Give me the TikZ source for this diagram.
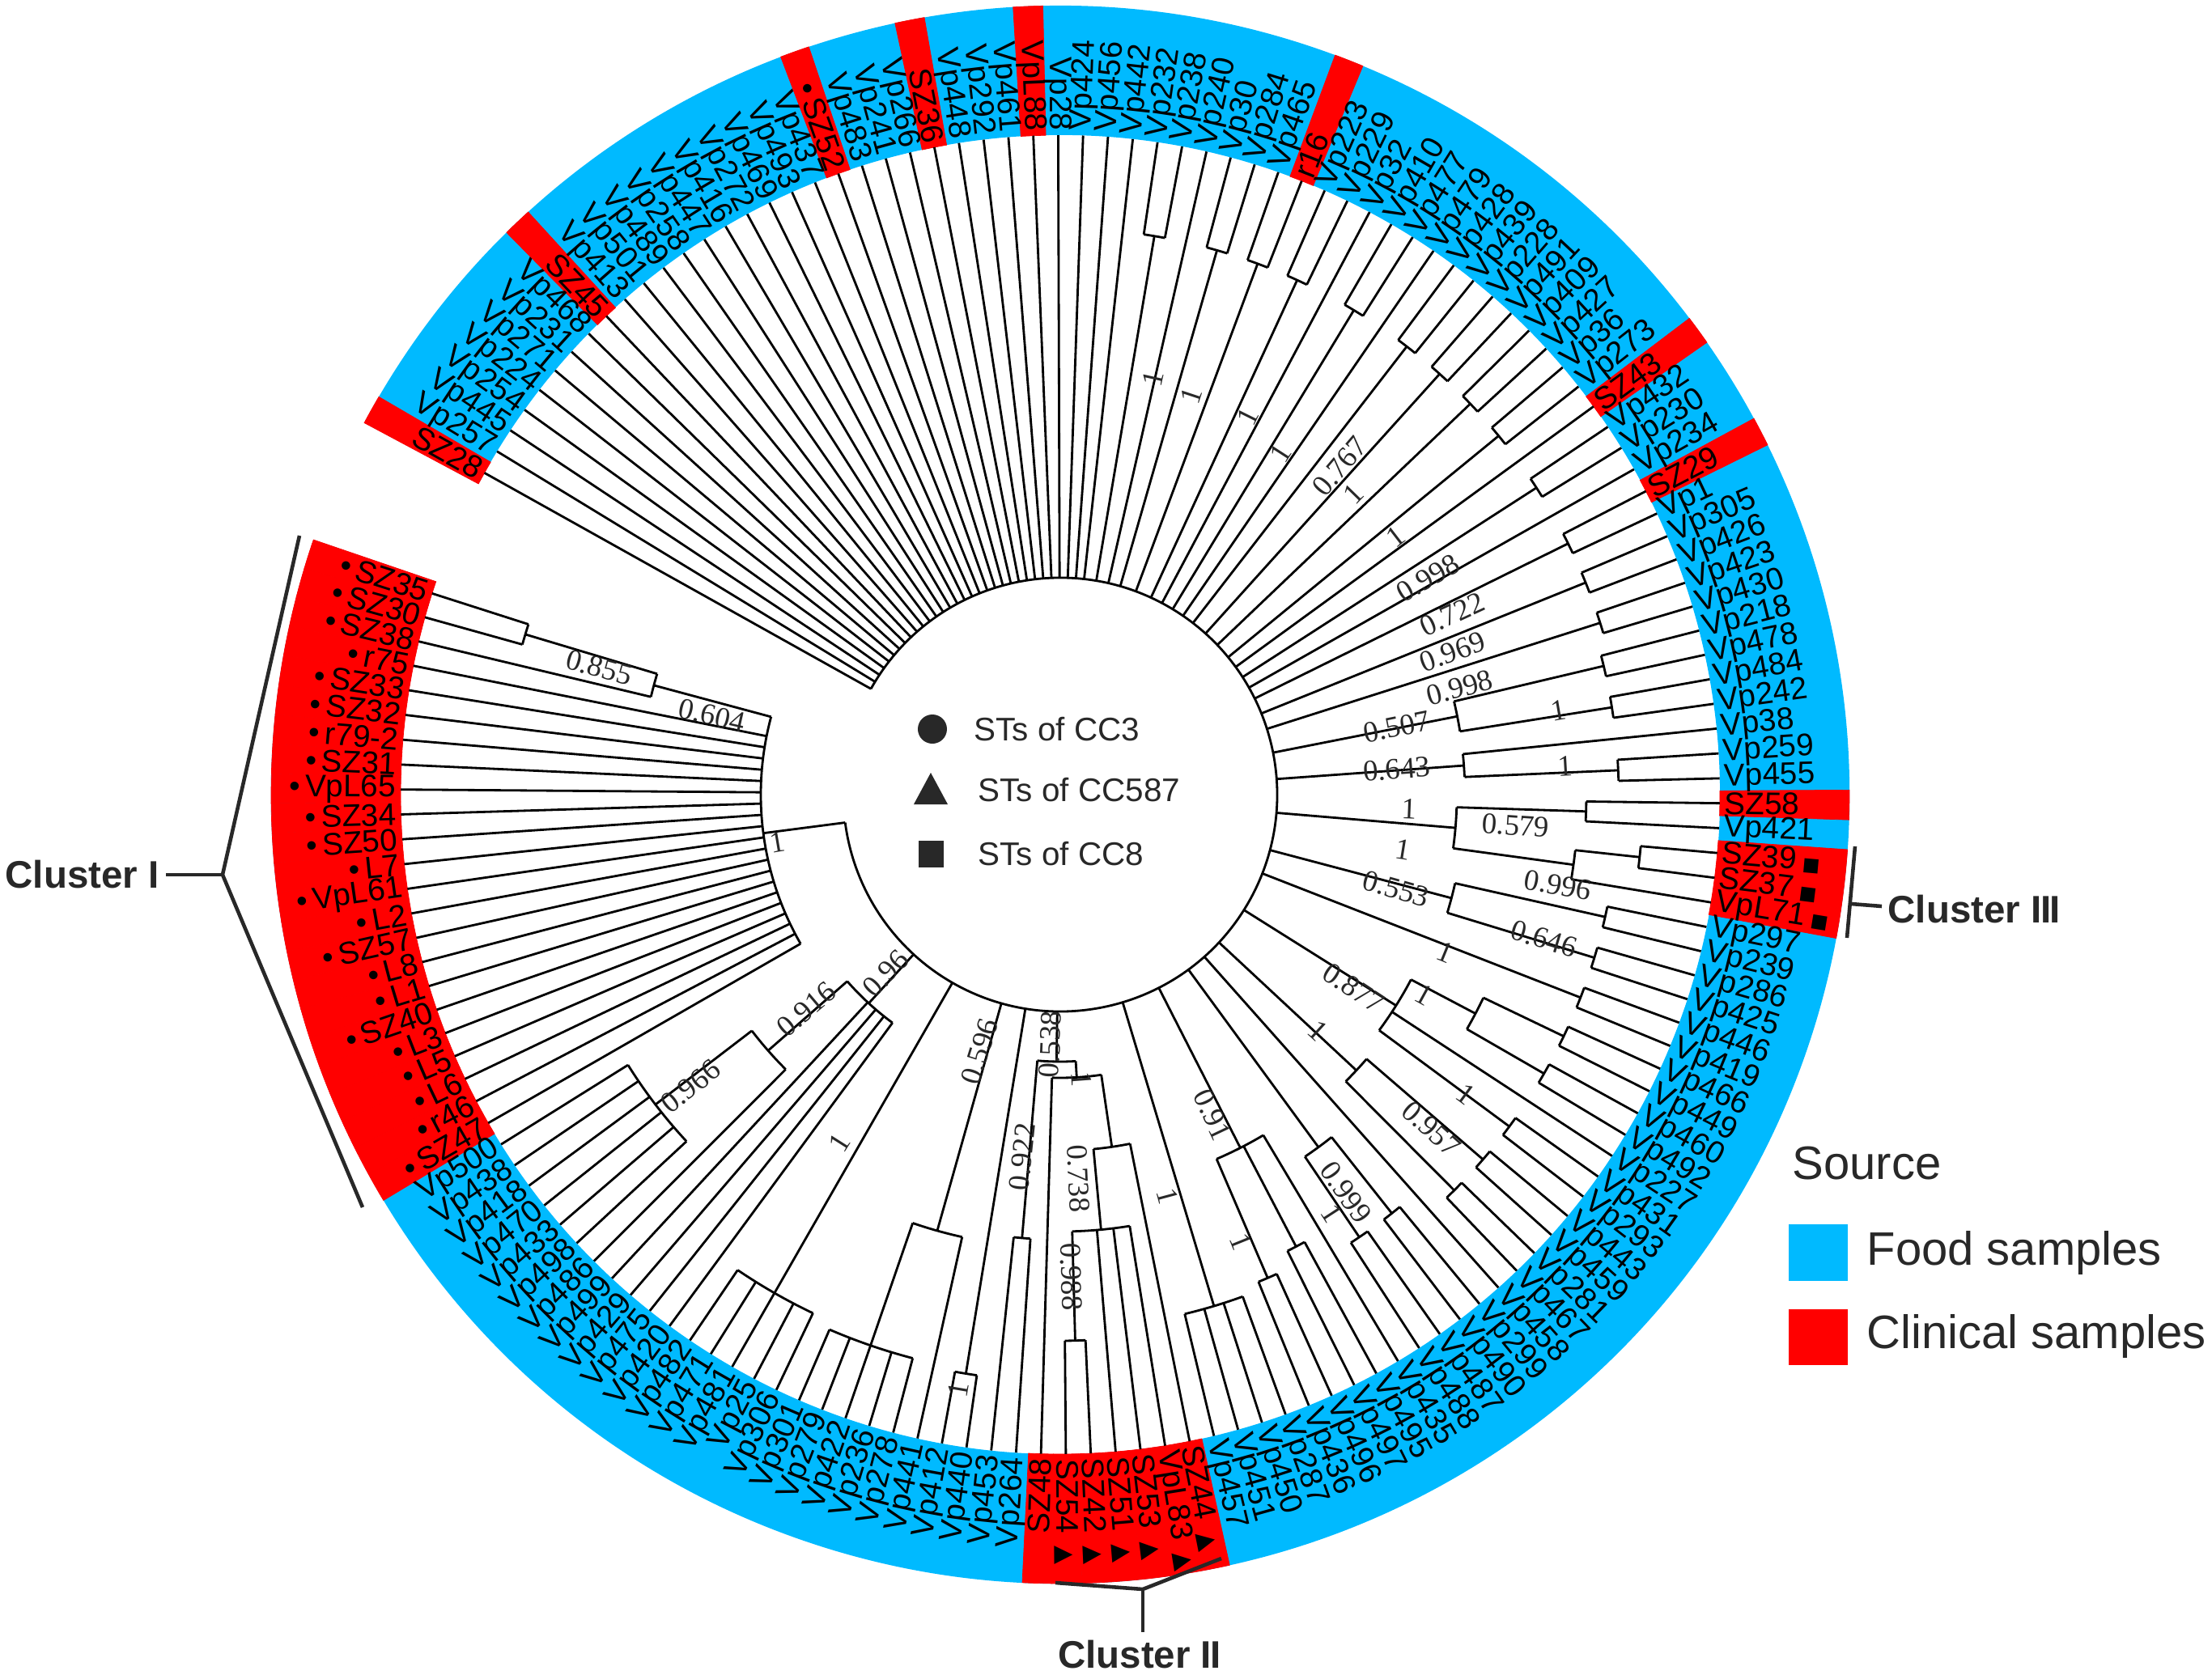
\documentclass[tikz,border=0pt]{standalone}
\usepackage{fontspec}
\setmainfont{Liberation Sans}
\newfontfamily\bsfont{Liberation Serif}
\newfontfamily\symfont{DejaVu Sans}

\definecolor{food}{RGB}{0,186,255}
\definecolor{clin}{RGB}{255,0,0}
\definecolor{ink}{RGB}{40,40,40}

% angle of leaf number #1 (counted clockwise from SZ28)
\newcommand\A[1]{150.8-2.165*(#1-1)}
\newcommand\Rz{2.68}
\newcommand\Rin{8.15}
\newcommand\Rout{9.75}
\newcommand\leafline[2]{\draw[br] ({\A{#1}}:#2) -- ({\A{#1}}:\Rin);}
\newcommand\clade[4]{%
  \draw[br] ({\A{(#3+#4)/2}}:#1) -- ({\A{(#3+#4)/2}}:#2);
  \draw[br] ({\A{#3}}:#2) arc[start angle={\A{#3}}, end angle={\A{#4}}, radius=#2];}
\newcommand\cherry[3]{\clade{#1}{#2}{#3}{#3+1}\leafline{#3}{#2}\leafline{#3+1}{#2}}

\def\leaflist{SZ28/c/n, Vp257/f/n, Vp445/f/n, Vp254/f/n, Vp224/f/n, Vp271/f/n, Vp231/f/n, Vp468/f/n, SZ45/c/n, Vp413/f/n,
 Vp501/f/n, Vp489/f/n, Vp258/f/n, Vp447/f/n, Vp416/f/n, Vp272/f/n, Vp469/f/n, Vp493/f/n, Vp437/f/n, SZ52/c/d,
 Vp483/f/n, Vp241/f/n, Vp266/f/n, SZ36/c/n, Vp448/f/n, Vp292/f/n, Vp461/f/n, VpL88/c/n, Vp28/f/n, Vp424/f/n,
 Vp456/f/n, Vp442/f/n, Vp232/f/n, Vp238/f/n, Vp240/f/n, Vp30/f/n, Vp284/f/n, Vp465/f/n, r16/c/n, Vp223/f/n,
 Vp229/f/n, Vp32/f/n, Vp410/f/n, Vp477/f/n, Vp479/f/n, Vp428/f/n, Vp439/f/n, Vp228/f/n, Vp491/f/n, Vp409/f/n,
 Vp427/f/n, Vp36/f/n, Vp273/f/n, SZ43/c/n, Vp432/f/n, Vp230/f/n, Vp234/f/n, SZ29/c/n, Vp1/f/n, Vp305/f/n,
 Vp426/f/n, Vp423/f/n, Vp430/f/n, Vp218/f/n, Vp478/f/n, Vp484/f/n, Vp242/f/n, Vp38/f/n, Vp259/f/n, Vp455/f/n,
 SZ58/c/n, Vp421/f/n, SZ39/c/s, SZ37/c/s, VpL71/c/s, Vp297/f/n, Vp239/f/n, Vp286/f/n, Vp425/f/n, Vp446/f/n,
 Vp419/f/n, Vp466/f/n, Vp449/f/n, Vp460/f/n, Vp492/f/n, Vp227/f/n, Vp431/f/n, Vp293/f/n, Vp443/f/n, Vp459/f/n,
 Vp281/f/n, Vp467/f/n, Vp458/f/n, Vp299/f/n, Vp490/f/n, Vp487/f/n, Vp488/f/n, Vp435/f/n, Vp495/f/n, Vp497/f/n,
 Vp496/f/n, Vp436/f/n, Vp287/f/n, Vp450/f/n, Vp451/f/n, Vp457/f/n, SZ44/c/t, VpL83/c/t, SZ53/c/t, SZ51/c/t,
 SZ42/c/t, SZ54/c/t, SZ48/c/n, Vp264/f/n, Vp453/f/n, Vp440/f/n, Vp412/f/n, Vp441/f/n, Vp278/f/n, Vp236/f/n,
 Vp422/f/n, Vp279/f/n, Vp301/f/n, Vp306/f/n, Vp25/f/n, Vp481/f/n, Vp471/f/n, Vp482/f/n, Vp420/f/n, Vp475/f/n,
 Vp429/f/n, Vp499/f/n, Vp486/f/n, Vp498/f/n, Vp433/f/n, Vp470/f/n, Vp418/f/n, Vp438/f/n, Vp500/f/n, SZ47/c/d,
 r46/c/d, L6/c/d, L5/c/d, L3/c/d, SZ40/c/d, L1/c/d, L8/c/d, SZ57/c/d, L2/c/d, VpL61/c/d,
 L7/c/d, SZ50/c/d, SZ34/c/d, VpL65/c/d, SZ31/c/d, r79-2/c/d, SZ32/c/d, SZ33/c/d, r75/c/d, SZ38/c/d,
 SZ30/c/d, SZ35/c/d}

\begin{document}
\begin{tikzpicture}[
	br/.style={line width=0.8pt},
	leaf/.style={font=\fontsize{11}{12}\selectfont, inner sep=1.5pt},
	bs/.style={font=\bsfont\fontsize{10.5}{11}\selectfont, inner sep=0pt, text=ink},
	clu/.style={font=\fontsize{13.5}{14}\selectfont\bfseries, text=ink, inner sep=0pt},
	brk/.style={ink, line width=1.3pt},
	lgd/.style={font=\fontsize{16.5}{17}\selectfont, text=ink, inner sep=0pt},
	key/.style={font=\fontsize{11.5}{12}\selectfont, text=ink, inner sep=0pt}]
	\useasboundingbox (-13.10,-10.87) rectangle (14.23,9.82);

	% source ring
	\fill[food] ({\A{0.5}}:\Rin) arc[start angle={\A{0.5}}, end angle={\A{162.5}}, radius=\Rin]
		-- ({\A{162.5}}:\Rout) arc[start angle={\A{162.5}}, end angle={\A{0.5}}, radius=\Rout] -- cycle;
	\foreach \lab/\src/\mk [count=\i] in \leaflist {
		\if\src c
			\fill[clin, draw=clin, line width=0.2pt] ({\A{\i-0.5}}:\Rin) arc[start angle={\A{\i-0.5}}, end angle={\A{\i+0.5}}, radius=\Rin]
				-- ({\A{\i+0.5}}:\Rout) arc[start angle={\A{\i+0.5}}, end angle={\A{\i-0.5}}, radius=\Rout] -- cycle;
		\fi
	}

	% root
	\draw[br] ({\A{1}}:\Rz) arc[start angle={\A{1}}, end angle={\A{150.375}}, radius=\Rz];
	\foreach \k in {1,...,32,35,42,45,54,57,93} {\leafline{\k}{\Rz}}
	\foreach \k in {33,36,38,40,43,46,48,50,52,55,58,60,62} {\cherry{\Rz}{7.0}{\k}}

	% right side
	\clade{\Rz}{5.0}{64.5}{66.5} \cherry{5.0}{6.9}{64} \cherry{5.0}{6.9}{66}
	\clade{\Rz}{5.0}{68}{69.5} \leafline{68}{5.0} \cherry{5.0}{6.9}{69}
	\clade{\Rz}{4.9}{71.5}{74.25} \cherry{4.9}{6.5}{71}
	\clade{4.9}{6.4}{73.5}{75} \cherry{6.4}{7.2}{73} \leafline{75}{6.4}
	\clade{\Rz}{5.0}{76.5}{78.5} \cherry{5.0}{6.9}{76} \cherry{5.0}{6.9}{78}
	\cherry{\Rz}{6.9}{80}
	\clade{\Rz}{4.9}{83.5}{87.5} \clade{4.9}{5.8}{82.5}{84.5}
	\cherry{5.8}{6.9}{82} \cherry{5.8}{6.9}{84} \leafline{86}{4.9} \cherry{4.9}{6.9}{87}
	\clade{\Rz}{5.0}{89.5}{91.5} \cherry{5.0}{6.9}{89} \cherry{5.0}{6.9}{91}
	\clade{\Rz}{5.4}{94.5}{96.5} \cherry{5.4}{6.6}{94} \cherry{5.4}{6.6}{96}
	\clade{\Rz}{4.9}{98}{101.5} \leafline{98}{4.9} \cherry{4.9}{6.3}{99} \cherry{4.9}{6.5}{101}
	\clade{\Rz}{6.6}{103}{106}
	\foreach \k in {103,...,106} {\leafline{\k}{6.6}}

	% bottom
	\clade{4.4}{5.4}{108}{111.5} \foreach \k in {108,109,110} {\leafline{\k}{5.4}} \cherry{5.4}{6.75}{111}
	\clade{3.5}{4.4}{107}{109.75} \leafline{107}{4.4}
	\clade{3.3}{3.5}{108.375}{113} \leafline{113}{3.5}
	\clade{\Rz}{3.3}{110.6875}{114.5} \cherry{3.3}{5.5}{114}
	\cherry{\Rz}{7.25}{116}
	\clade{\Rz}{5.6}{118}{121} \leafline{118}{5.6}
	\clade{5.6}{7.2}{119}{123} \foreach \k in {119,...,123} {\leafline{\k}{7.2}}
	\clade{\Rz}{7.1}{124}{128} \foreach \k in {124,...,128} {\leafline{\k}{7.1}}
	\clade{\Rz}{3.5}{129}{134.75} \foreach \k in {129,...,132} {\leafline{\k}{3.5}}
	\clade{3.5}{4.8}{133}{136.5} \leafline{133}{4.8}
	\clade{4.8}{6.3}{134}{139} \foreach \k in {134,...,139} {\leafline{\k}{6.3}}

	% cluster I
	\clade{\Rz}{3.7}{140}{160.75} \foreach \k in {140,...,159} {\leafline{\k}{3.7}}
	\clade{3.7}{5.2}{160}{161.5} \leafline{160}{5.2} \cherry{5.2}{6.9}{161}

	% bootstrap values
	\foreach \bang/\brad/\bval in {77.4/5.27/1, 71.8/5.19/1, 63.6/5.22/1, 57.2/5.02/1, 49.6/5.33/0.767,
		45.7/5.19/1, 37.6/5.23/1, 30.5/5.27/0.998, 24.7/5.33/0.722, 20.0/5.16/0.969, 15.0/5.11/0.998,
		9.6/6.24/1, 11.4/4.24/0.507, 3.2/6.25/1, 4.3/4.17/0.643, -2.3/4.32/1, -3.9/5.64/0.579,
		-9.1/4.29/1, -10.3/6.25/0.996, -15.7/4.31/0.553, -16.6/6.24/0.646, -22.3/5.14/1,
		-33.4/4.34/0.877, -28.8/5.13/1, -42.4/4.32/1, -36.4/6.23/1, -42.0/6.17/0.957,
		-54.3/6.05/0.999, -57.0/6.17/1, -68.0/5.96/1, -75.0/5.14/1, -64.6/4.38/0.91,
		-87.3/4.75/0.738, -88.7/5.96/0.988, -92.3/3.09/0.538, -85.8/3.53/1, -96.0/4.5/0.922,
		-107.4/3.33/0.596, -99.7/7.46/1, -122.4/5.1/1, -139.8/4.11/0.916, -134.3/3.09/0.96,
		-141.7/5.82/0.966, -170.4/3.54/1, 164.6/5.91/0.855, 167.2/4.41/0.604} {
		\pgfmathtruncatemacro\rside{(\bang>-90)*(\bang<90)}
		\ifnum\rside=1
			\node[bs, rotate=\bang] at (\bang:\brad) {\bval};
		\else
			\pgfmathsetmacro\brot{\bang+180}
			\node[bs, rotate=\brot] at (\bang:\brad) {\bval};
		\fi
	}

	% leaf labels
	\foreach \lab/\src/\mk [count=\i] in \leaflist {
		\pgfmathsetmacro\th{\A{\i}}
		\pgfmathtruncatemacro\rside{(\th>-90)*(\th<90)}
		\def\pre{}\def\suf{}
		\if\mk d\def\pre{\textbullet\,}\fi
		\if\mk t\def\suf{\hspace{0.4em}{\symfont\fontsize{8.5}{9}\selectfont▲}}\fi
		\if\mk s\def\suf{\hspace{0.2em}{\symfont\fontsize{6.5}{7}\selectfont■}}\fi
		\ifnum\rside=1
			\node[leaf, rotate=\th, anchor=west] (L\i) at (\th:\Rin) {\lab\suf};
		\else
			\pgfmathsetmacro\rt{\th+180}
			\node[leaf, rotate=\rt, anchor=east] (L\i) at (\th:\Rin) {\pre\lab};
		\fi
	}

	% sequence type key
	\fill[ink] (-1.58,0.81) circle [radius=0.18];
	\fill[ink] (-1.81,-0.12) -- (-1.39,-0.12) -- (-1.60,0.27) -- cycle;
	\fill[ink] (-1.75,-0.57) rectangle (-1.44,-0.90);
	\node[key, anchor=west] (cc3) at (-1.07,0.81) {STs of CC3};
	\node[key, anchor=west] (cc587) at (-1.02,0.06) {STs of CC587};
	\node[key, anchor=west] (cc8) at (-1.02,-0.73) {STs of CC8};

	% clusters
	\node[clu, anchor=west] (c1) at (-13.04,-0.99) {Cluster I};
	\draw[brk] (-11.05,-0.99) -- (-10.35,-0.99);
	\draw[brk] (-9.40,3.20) -- (-10.35,-0.99) -- (-8.62,-5.10);
	\draw[brk] (-0.06,-9.74) -- (1.02,-9.82) -- (1.99,-9.44);
	\draw[brk] (1.02,-9.82) -- (1.02,-10.35);
	\node[clu] (c2) at (0.98,-10.63) {Cluster I\kern-0.03em I};
	\draw[brk] (9.82,-0.64) -- (9.72,-1.77);
	\draw[brk] (9.77,-1.35) -- (10.15,-1.38);
	\node[clu, anchor=west] (c3) at (10.22,-1.42) {Cluster I\kern-0.03em I\kern-0.03em I};

	% source key
	\node[lgd, anchor=west] (src) at (9.04,-4.56) {Source};
	\fill[food] (9.00,-5.31) rectangle (9.73,-6.01);
	\fill[clin] (9.00,-6.36) rectangle (9.73,-7.05);
	\node[lgd, anchor=west] (fd) at (9.96,-5.66) {Food samples};
	\node[lgd, anchor=west] (cl) at (9.96,-6.69) {Clinical samples};
\end{tikzpicture}
\end{document}
